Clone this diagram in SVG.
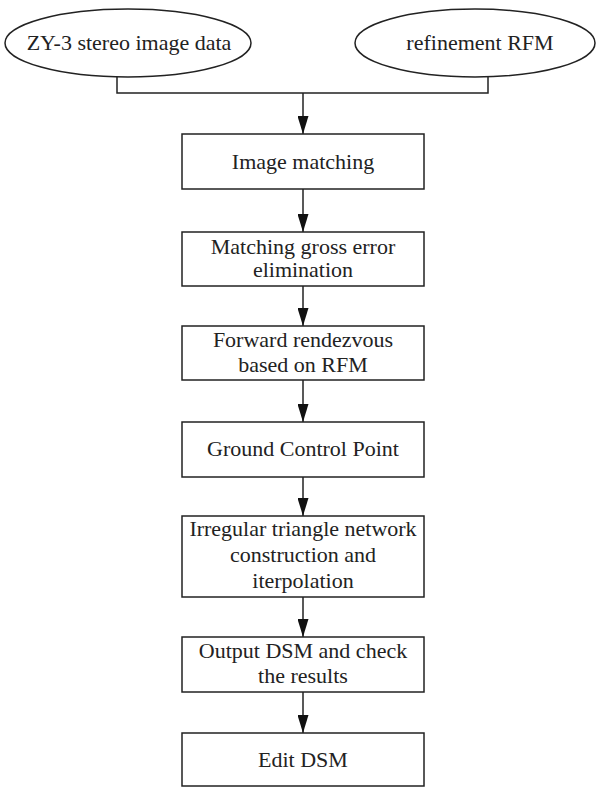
<svg xmlns="http://www.w3.org/2000/svg" width="596" height="787" viewBox="0 0 596 787">
<defs>
<style>
.n{fill:#fff;stroke:#222;stroke-width:1.5}
.t{font-family:"Liberation Serif","Times New Roman",serif;font-size:22px;fill:#222;text-anchor:middle}
.c{fill:none;stroke:#222;stroke-width:1.5}
</style>
<marker id="ah" viewBox="0 0 18 11" markerWidth="18" markerHeight="11" refX="18" refY="5.5" orient="auto" markerUnits="userSpaceOnUse">
<path d="M0,0 L18,5.5 L0,11 z" fill="#111"/>
</marker>
</defs>
<rect width="596" height="787" fill="#fff"/>
<g id="connectors">
<path class="c" d="M117,76 V93 H488 V76"/>
<path class="c" d="M303,93 V134" marker-end="url(#ah)"/>
<path class="c" d="M303,189 V232" marker-end="url(#ah)"/>
<path class="c" d="M303,286 V326" marker-end="url(#ah)"/>
<path class="c" d="M303,380 V422" marker-end="url(#ah)"/>
<path class="c" d="M303,477 V516" marker-end="url(#ah)"/>
<path class="c" d="M303,597 V637" marker-end="url(#ah)"/>
<path class="c" d="M303,692 V733" marker-end="url(#ah)"/>
</g>
<g id="zy3">
<ellipse class="n" cx="128" cy="43" rx="123" ry="34"/>
<text class="t" x="129" y="50">ZY-3 stereo image data</text>
</g>
<g id="rfm">
<ellipse class="n" cx="475" cy="43" rx="120" ry="34"/>
<text class="t" x="480" y="50">refinement RFM</text>
</g>
<g id="matching">
<rect class="n" x="182" y="134" width="242" height="55"/>
<text class="t" x="303" y="169">Image matching</text>
</g>
<g id="gross">
<rect class="n" x="182" y="232" width="242" height="54"/>
<text class="t" x="303" y="254">Matching gross error</text>
<text class="t" x="303" y="277">elimination</text>
</g>
<g id="forward">
<rect class="n" x="182" y="326" width="242" height="54"/>
<text class="t" x="303" y="347">Forward rendezvous</text>
<text class="t" x="303" y="372">based on RFM</text>
</g>
<g id="gcp">
<rect class="n" x="182" y="422" width="242" height="55"/>
<text class="t" x="303" y="456">Ground Control Point</text>
</g>
<g id="tin">
<rect class="n" x="182" y="516" width="242" height="81"/>
<text class="t" x="303" y="536">Irregular triangle network</text>
<text class="t" x="303" y="562">construction and</text>
<text class="t" x="303" y="588">iterpolation</text>
</g>
<g id="output">
<rect class="n" x="182" y="637" width="242" height="55"/>
<text class="t" x="303" y="658">Output DSM and check</text>
<text class="t" x="303" y="683">the results</text>
</g>
<g id="edit">
<rect class="n" x="182" y="733" width="242" height="53"/>
<text class="t" x="303" y="767">Edit DSM</text>
</g>
</svg>
